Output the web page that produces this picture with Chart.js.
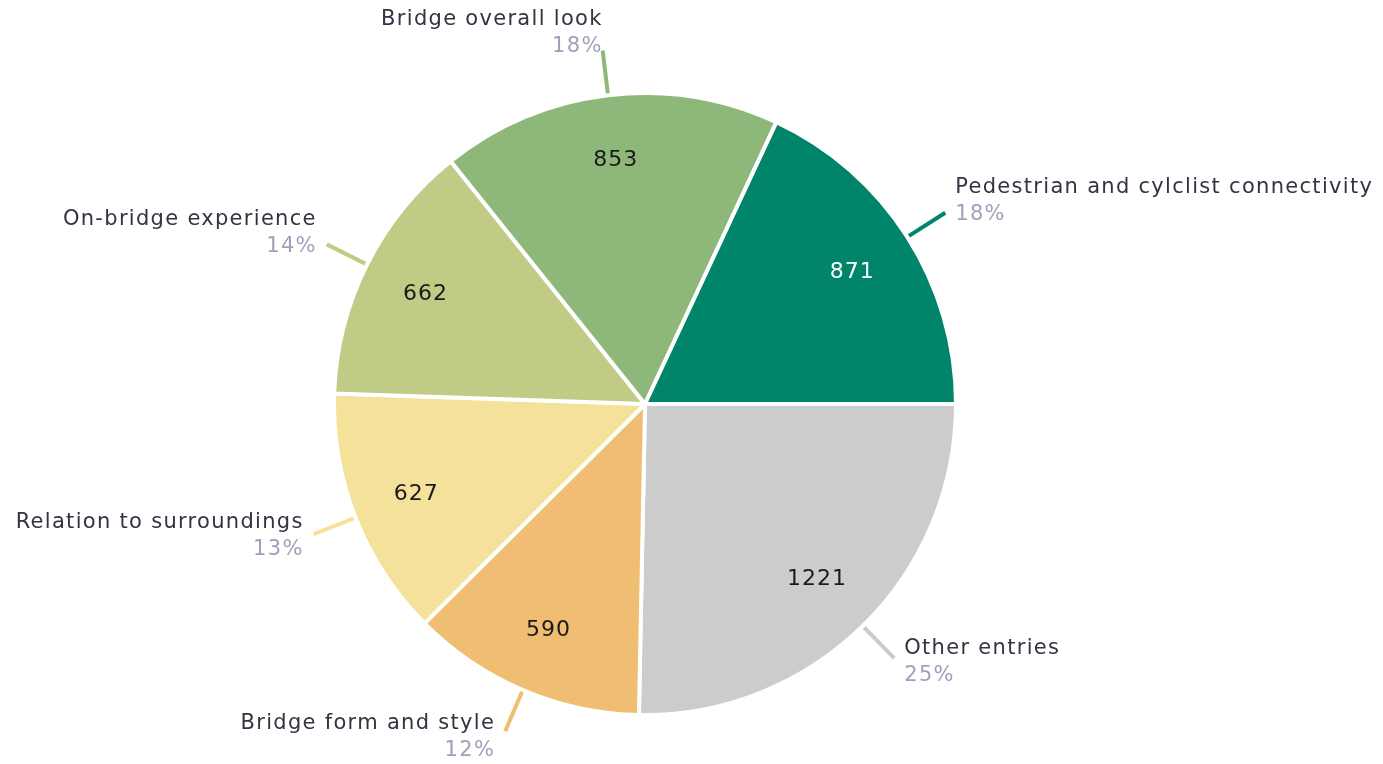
<!DOCTYPE html>
<html>
<head>
<meta charset="utf-8">
<script src="https://cdn.jsdelivr.net/npm/chart.js@4"></script>
<style>
    html, body {
        margin: 0;
        padding: 0;
        background: #ffffff;
    }
    #chart {
        display: block;
    }
</style>
</head>
<body>
<canvas id="chart" width="1383" height="764"></canvas>
<script>
// slices in clockwise order, starting at 3 o'clock
const categories = [
    'Other entries',
    'Bridge form and style',
    'Relation to surroundings',
    'On-bridge experience',
    'Bridge overall look',
    'Pedestrian and cylclist connectivity'
];
const entryCounts = [1221, 590, 627, 662, 853, 871];
const sliceColors = ['#cccccc', '#f0be72', '#f4e29a', '#c0cc86', '#8db87a', '#00856a'];
const valueColors = ['#1a1a1a', '#1a1a1a', '#1a1a1a', '#1a1a1a', '#1a1a1a', '#ffffff'];

const fontFamily = '"DejaVu Sans", "Liberation Sans", sans-serif';

const totalEntries = entryCounts.reduce((a, b) => a + b, 0);

const labelPlugin = {
    id: 'sliceLabels',
    afterDatasetsDraw(chart) {
        const ctx = chart.ctx;
        const arcs = chart.getDatasetMeta(0).data;
        ctx.save();
        arcs.forEach((arc, i) => {
            const mid = (arc.startAngle + arc.endAngle) / 2;
            const cos = Math.cos(mid);
            const sin = Math.sin(mid);
            const r = arc.outerRadius;

            // value inside the slice
            ctx.font = '22px ' + fontFamily;
            ctx.letterSpacing = '1px';
            ctx.fillStyle = valueColors[i];
            ctx.textAlign = 'center';
            ctx.textBaseline = 'middle';
            ctx.fillText(entryCounts[i], arc.x + cos * r * 0.79, arc.y + sin * r * 0.79);

            // leader line
            const x1 = arc.x + cos * (r + 2);
            const y1 = arc.y + sin * (r + 2);
            const x2 = arc.x + cos * (r + 45);
            const y2 = arc.y + sin * (r + 45);
            ctx.strokeStyle = sliceColors[i];
            ctx.lineWidth = 4;
            ctx.beginPath();
            ctx.moveTo(x1, y1);
            ctx.lineTo(x2, y2);
            ctx.stroke();

            // name and percentage
            const pct = Math.round(entryCounts[i] / totalEntries * 100) + '%';
            let tx, ty1, ty2;
            if (sin < -0.9) {
                ctx.textAlign = 'right';
                tx = x2;
                ty2 = y2 - 4;
                ty1 = ty2 - 27;
            } else {
                ctx.textAlign = cos > 0 ? 'left' : 'right';
                tx = cos > 0 ? x2 + 10 : x2 - 10;
                const center = sin < 0 ? y2 - 12 : y2 + 1 + Math.max(0, sin - 0.4) * 8;
                ty1 = center - 13;
                ty2 = center + 14;
            }
            ctx.textBaseline = 'middle';
            ctx.font = '21px ' + fontFamily;
            ctx.letterSpacing = '1.3px';
            ctx.fillStyle = '#333442';
            ctx.fillText(categories[i], tx, ty1);
            ctx.fillStyle = '#a0a0bc';
            ctx.fillText(pct, tx, ty2);
        });
        ctx.restore();
    }
};

const ctx = document.getElementById('chart').getContext('2d');
new Chart(ctx, {
    type: 'pie',
    data: {
        labels: categories,
        datasets: [{
            data: entryCounts,
            backgroundColor: sliceColors,
            borderColor: '#ffffff',
            borderWidth: 4,
        }]
    },
    options: {
        responsive: false,
        animation: false,
        rotation: 90,
        layout: {
            padding: { top: 91, bottom: 47, left: 332, right: 425 }
        },
        plugins: {
            legend: { display: false },
            tooltip: { enabled: false }
        }
    },
    plugins: [labelPlugin]
});
</script>
</body>
</html>
